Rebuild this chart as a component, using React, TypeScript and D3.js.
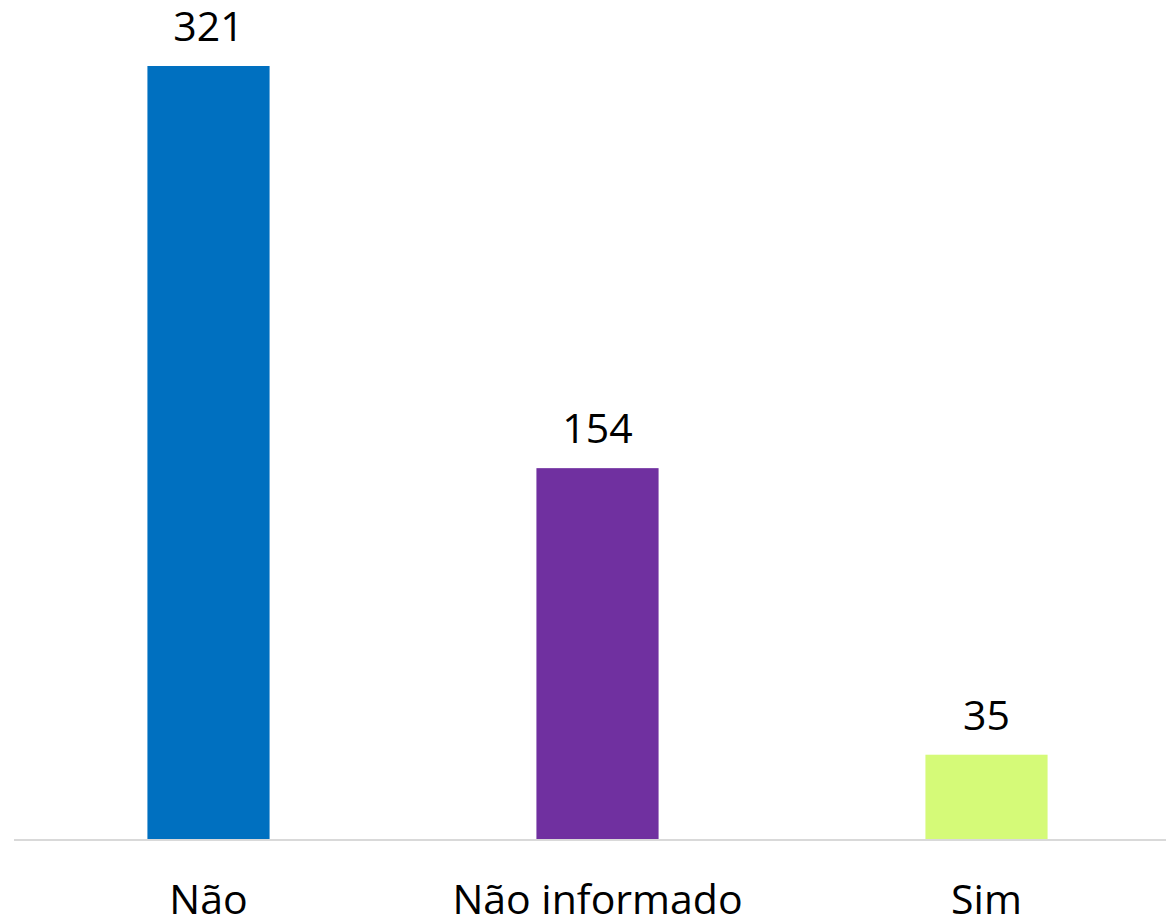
import { useEffect, useRef } from "react";
import * as d3 from "d3";

const categories = ["Não", "Não informado", "Sim"];
const values = [321, 154, 35];
const colors = ["#0070c0", "#7030a0", "#d5fa78"];

const width = 1166,
  height = 921,
  baseline = 839,
  top = 66;

function App() {
  const svgRef = useRef(null);

  useEffect(() => {
    const svg = d3.select(svgRef.current);
    svg.selectAll("*").remove();

    const x = d3
      .scaleBand()
      .domain(categories)
      .range([14, 1181])
      .paddingInner(0.686)
      .paddingOuter(0.343);

    const y = d3
      .scaleLinear()
      .domain([0, d3.max(values) as number])
      .range([baseline, top]);

    const data = categories.map((c, i) => ({ c, v: values[i], col: colors[i] }));

    svg
      .append("line")
      .attr("x1", 14)
      .attr("x2", width)
      .attr("y1", baseline + 1)
      .attr("y2", baseline + 1)
      .attr("stroke", "#d9d9d9")
      .attr("stroke-width", 2);

    svg
      .selectAll("rect.bar")
      .data(data)
      .enter()
      .append("rect")
      .attr("class", "bar")
      .attr("x", (d) => x(d.c) as number)
      .attr("y", (d) => y(d.v))
      .attr("width", x.bandwidth())
      .attr("height", (d) => baseline - y(d.v))
      .attr("fill", (d) => d.col);

    svg
      .selectAll("text.val")
      .data(data)
      .enter()
      .append("text")
      .attr("class", "val")
      .attr("x", (d) => (x(d.c) as number) + x.bandwidth() / 2)
      .attr("y", (d) => y(d.v) - 25)
      .attr("text-anchor", "middle")
      .style("font-family", "'Open Sans', sans-serif")
      .style("font-size", "41px")
      .attr("fill", "#000")
      .text((d) => d.v);

    svg
      .selectAll("text.cat")
      .data(data)
      .enter()
      .append("text")
      .attr("class", "cat")
      .attr("x", (d) => (x(d.c) as number) + x.bandwidth() / 2)
      .attr("y", 914)
      .attr("text-anchor", "middle")
      .style("font-family", "'Open Sans', sans-serif")
      .style("font-size", "41px")
      .attr("fill", "#000")
      .text((d) => d.c);
  }, []);

  return (
    <svg
      ref={svgRef}
      width={width}
      height={height}
      style={{ position: "absolute", left: 0, top: 0, background: "#fff" }}
    ></svg>
  );
}

export default App;
